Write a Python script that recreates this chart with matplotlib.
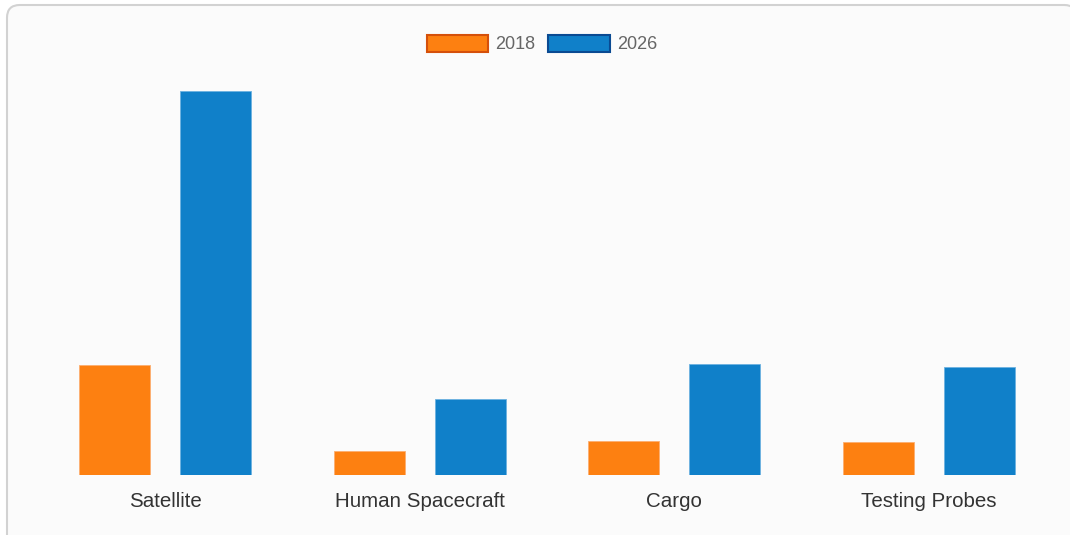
import numpy as np
import matplotlib.pyplot as plt
from matplotlib.patches import FancyBboxPatch, Patch

categories = ['Satellite', 'Human Spacecraft', 'Cargo', 'Testing Probes']
years = ['2018', '2026']
values_2018 = [110, 24, 34, 33]
values_2026 = [384, 76, 111, 108]

plt.rcParams['font.family'] = ['Liberation Sans', 'DejaVu Sans']

fig = plt.figure(figsize=(10.7, 5.35), dpi=100)
fig.patch.set_facecolor('white')

# card background with rounded border (runs off the right/bottom edge)
card = FancyBboxPatch((7 / 1070, -0.2), 1.0, 1.2 - 5 / 535, boxstyle='round,pad=0,rounding_size=0.012',
                      transform=fig.transFigure, facecolor='#fbfbfb', edgecolor='#d2d2d2',
                      linewidth=1.5, zorder=-1, mutation_aspect=2.0)
fig.patches.append(card)

ax = fig.add_axes([38 / 1070, 1 - 475 / 535, 1018 / 1070, (475 - 91) / 535])
ax.set_facecolor('none')

x = np.arange(len(categories))
w = 71 / 254.7
off = (101 / 254.7) / 2
ax.bar(x - off, values_2018, w, color='#fd8011', edgecolor='#fcae70', linewidth=0.6)
ax.bar(x + off, values_2026, w, color='#1080c9', edgecolor='#6cb2e0', linewidth=0.6)

ax.set_xlim(-0.5, len(categories) - 0.5)
ax.set_ylim(0, max(values_2026))
ax.set_xticks(x)
ax.set_xticklabels(categories, fontsize=14.8, color='#333333')
ax.tick_params(axis='x', length=0, pad=12)
ax.set_yticks([])
for s in ax.spines.values():
    s.set_visible(False)

handles = [Patch(facecolor='#fd8011', edgecolor='#d5500a', linewidth=1.5),
           Patch(facecolor='#1080c9', edgecolor='#0a4a92', linewidth=1.5)]
fig.legend(handles, years, loc='center', bbox_to_anchor=(542 / 1070, 1 - 44 / 535), ncol=2,
           frameon=False, fontsize=13, labelcolor='#666666', handlelength=3.4, handleheight=1.1,
           handletextpad=0.4, columnspacing=0.7)

fig.savefig('out.png', dpi=100, facecolor='white')
